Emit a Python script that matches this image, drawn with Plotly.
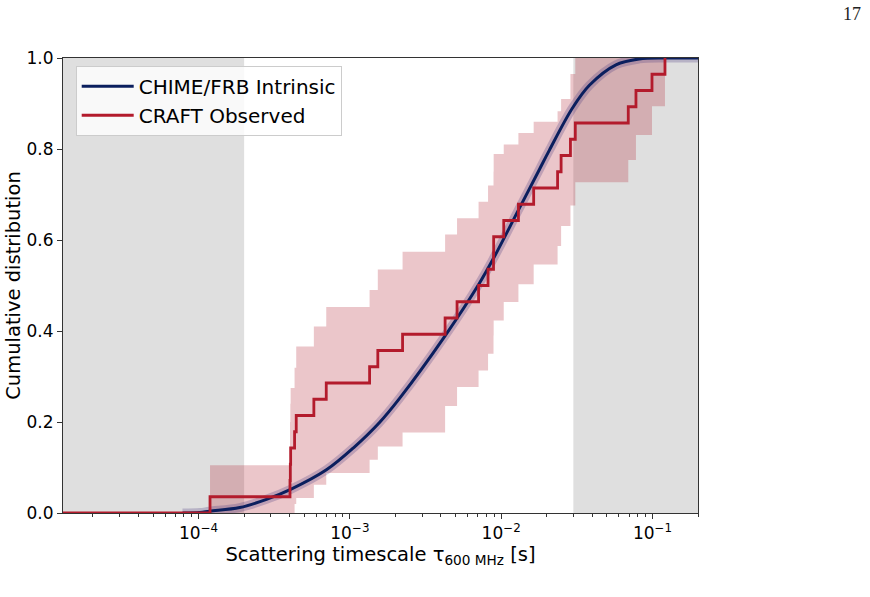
import numpy as np
import plotly.graph_objects as go

# ---------------- data ----------------
X_MIN, X_MAX = 1.27e-5, 0.2
GRAY_LEFT = [X_MIN, 2e-4]
GRAY_RIGHT = [0.03, X_MAX]

# CRAFT observed scattering times (s), sorted -> empirical CDF
craft_tau = [1.19e-4, 4.02e-4, 4.04e-4, 4.06e-4, 4.31e-4, 4.42e-4, 5.78e-4, 6.98e-4,
             1.35e-3, 1.53e-3, 2.23e-3, 4.26e-3, 5.11e-3, 7.09e-3, 8.19e-3, 8.90e-3,
             8.92e-3, 1.04e-2, 1.30e-2, 1.64e-2, 2.36e-2, 2.49e-2, 2.87e-2, 3.09e-2,
             6.92e-2, 7.78e-2, 9.93e-2, 0.121]
# confidence band on the CRAFT CDF, one value per CDF level k = 0..28
band_lo = [0, 0, 0, 0, 0, 0.02, 0.033, 0.062, 0.088, 0.117, 0.146, 0.177, 0.235, 0.277,
           0.313, 0.35, 0.39, 0.423, 0.464, 0.503, 0.546, 0.587, 0.631, 0.676, 0.727,
           0.776, 0.831, 0.894, 1.0]
band_hi = [0, 0.105, 0.2, 0.24, 0.275, 0.319, 0.366, 0.41, 0.453, 0.49, 0.535, 0.574,
           0.612, 0.648, 0.684, 0.72, 0.75, 0.789, 0.81, 0.835, 0.86, 0.883, 0.91, 0.965,
           1.0, 1.0, 1.0, 1.0, 1.0]

# CHIME/FRB intrinsic CDF
chime_tau = [7.83e-5, 1.02e-4, 1.18e-4, 1.87e-4, 2.81e-4, 4.06e-4, 7.0e-4,
             1.07e-3, 1.57e-3, 2.13e-3, 4.27e-3, 7.18e-3, 8.91e-3, 1.32e-2, 1.79e-2,
             2.08e-2, 2.96e-2, 3.83e-2, 5.74e-2, 8.18e-2, 0.123, 0.2]
chime_cdf = [0.0, 0.001, 0.004, 0.012, 0.03, 0.052, 0.095, 0.145, 0.199, 0.252,
             0.39, 0.505, 0.56, 0.67, 0.755, 0.797, 0.89, 0.94, 0.985, 0.998, 1.0, 1.0]

Y_TICKS = [0.0, 0.2, 0.4, 0.6, 0.8, 1.0]
Y_LABELS = ["0.0", "0.2", "0.4", "0.6", "0.8", "1.0"]
X_TICKS = [1e-4, 1e-3, 1e-2, 1e-1]
X_LABELS = ["10<sup>−4</sup>", "10<sup>−3</sup>", "10<sup>−2</sup>", "10<sup>−1</sup>"]
MINOR_MULT = [2, 3, 4, 5, 6, 7, 8, 9]
MINOR_DECADES = [1e-5, 1e-4, 1e-3, 1e-2, 1e-1]

# ---------------- derived ----------------
n = len(craft_tau)
step_x = [X_MIN] + craft_tau
step_y = [0.0] + [k / n for k in range(1, n + 1)]
band_x = [X_MIN] + craft_tau + [X_MAX]
lo_y = band_lo + [band_lo[-1]]
hi_y = band_hi + [band_hi[-1]]
minor_ticks = [m * d for d in MINOR_DECADES for m in MINOR_MULT if X_MIN <= m * d <= X_MAX]

RED = "#b31b2c"
NAVY = "#0b1f5e"
FONT = "DejaVu Sans"

fig = go.Figure()

# gray excluded regions
for xs in (GRAY_LEFT, GRAY_RIGHT):
    fig.add_trace(go.Scatter(
        x=[xs[0], xs[1], xs[1], xs[0], xs[0]], y=[0, 0, 1, 1, 0],
        fill="toself", fillcolor="rgba(128,128,128,0.25)", line=dict(width=0),
        mode="lines", hoverinfo="skip", showlegend=False))

# CRAFT band
fig.add_trace(go.Scatter(x=band_x, y=lo_y, mode="lines", line=dict(width=0, shape="hv"),
                         showlegend=False, hoverinfo="skip"))
fig.add_trace(go.Scatter(x=band_x, y=hi_y, mode="lines", line=dict(width=0, shape="hv"),
                         fill="tonexty", fillcolor="rgba(178,34,52,0.26)",
                         showlegend=False, hoverinfo="skip"))

# CHIME haze + line
fig.add_trace(go.Scatter(x=chime_tau, y=chime_cdf, mode="lines",
                         line=dict(color="rgba(80,60,130,0.28)", width=9, shape="spline"),
                         showlegend=False, hoverinfo="skip"))
fig.add_trace(go.Scatter(x=chime_tau, y=chime_cdf, mode="lines", name="CHIME/FRB Intrinsic",
                         line=dict(color=NAVY, width=3, shape="spline")))

# CRAFT step CDF
fig.add_trace(go.Scatter(x=step_x, y=step_y, mode="lines", name="CRAFT Observed",
                         line=dict(color=RED, width=2.8, shape="hv")))

# invisible trace to carry the minor-tick axis
fig.add_trace(go.Scatter(x=[X_MIN, X_MAX], y=[0, 0], xaxis="x2", mode="lines",
                         line=dict(width=0), showlegend=False, hoverinfo="skip"))

fig.update_layout(
    width=870, height=597,
    margin=dict(l=63, r=172, t=58, b=84),
    paper_bgcolor="white", plot_bgcolor="white",
    font=dict(family=FONT, color="black"),
    showlegend=True,
    legend=dict(x=0.02, y=0.983, xanchor="left", yanchor="top", traceorder="normal",
                bgcolor="rgba(255,255,255,0.8)", bordercolor="#cccccc", borderwidth=1,
                itemwidth=52, font=dict(size=20, family=FONT)),
    xaxis=dict(type="log", range=[np.log10(X_MIN), np.log10(X_MAX)],
               showline=True, mirror=True, linecolor="#333333", linewidth=1,
               ticks="outside", ticklen=5, tickcolor="#333333",
               tickvals=X_TICKS, ticktext=X_LABELS,
               tickfont=dict(size=17), showgrid=False, zeroline=False,
               title=dict(text="Scattering timescale τ<sub>600 MHz</sub> [s]",
                          font=dict(size=19.5), standoff=2)),
    xaxis2=dict(type="log", range=[np.log10(X_MIN), np.log10(X_MAX)], overlaying="x",
                anchor="y", side="bottom", showline=False, showgrid=False, zeroline=False,
                ticks="outside", ticklen=3, tickcolor="#333333", tickvals=minor_ticks,
                showticklabels=False),
    yaxis=dict(range=[0, 1], showline=True, mirror=True, linecolor="#333333", linewidth=1,
               ticks="outside", ticklen=5, tickcolor="#333333",
               tickvals=Y_TICKS, ticktext=Y_LABELS, tickfont=dict(size=17),
               showgrid=False, zeroline=False,
               title=dict(text="Cumulative distribution", font=dict(size=19.5), standoff=0)),
    annotations=[dict(text="17", xref="paper", yref="paper",
                      x=(863 - 63) / 635, y=(513 - 2) / 455, showarrow=False,
                      font=dict(family="Liberation Serif", size=18, color="#222222"))],
)

fig.write_html("out.html")
